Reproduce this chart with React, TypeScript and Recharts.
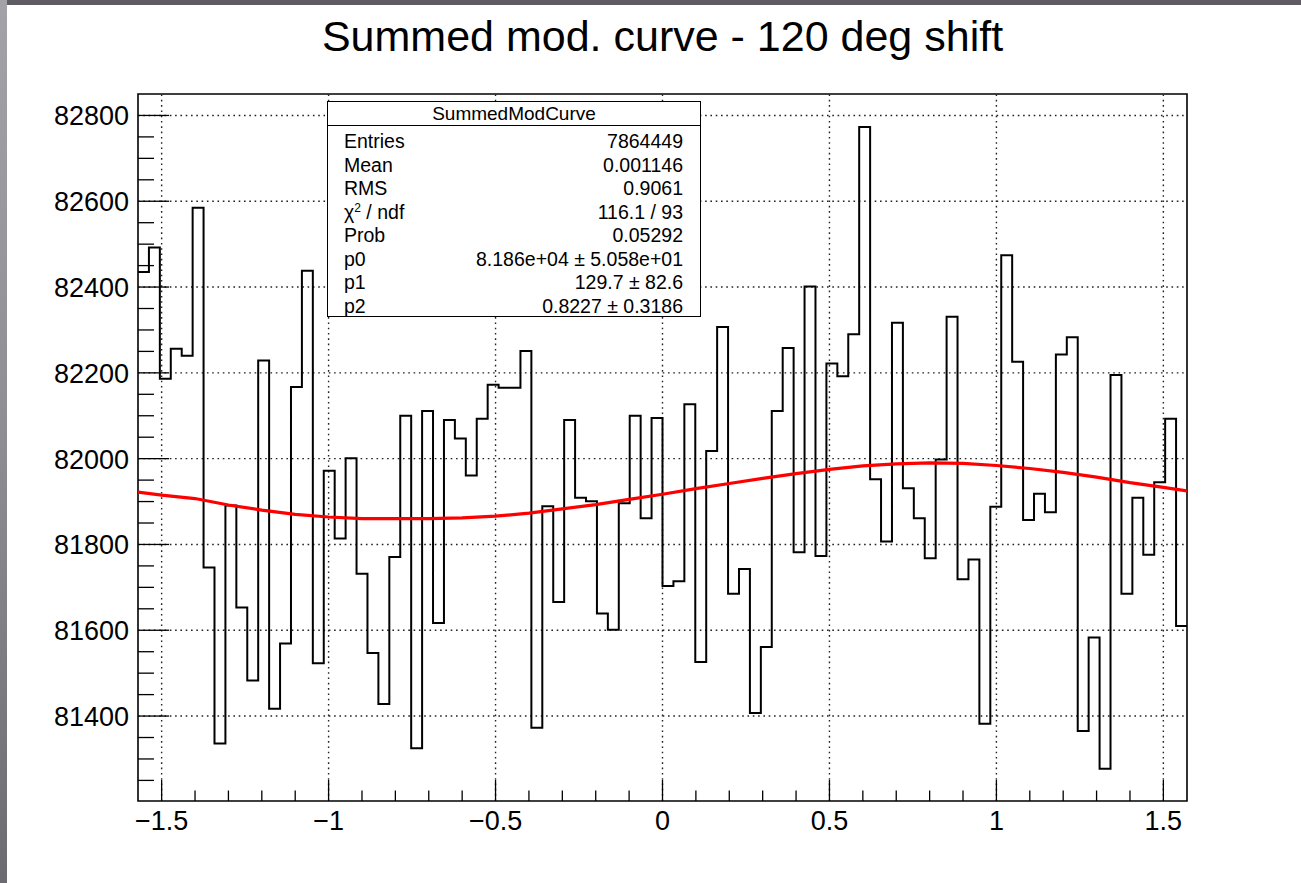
import React from "react";
import {
  ComposedChart,
  Line,
  XAxis,
  YAxis,
  ReferenceLine,
  ReferenceArea,
} from "recharts";

// ---------------- data ----------------
const histTitle = "SummedModCurve";
const chartTitle = "Summed mod. curve - 120 deg shift";
const xMin = -Math.PI / 2;
const xMax = Math.PI / 2;
const nBins = 96;

const binContents = [
  82435, 82492, 82186, 82256, 82240, 82585, 81746, 81336, 81891, 81653,
  81483, 82229, 81417, 81569, 82167, 82438, 81523, 81972, 81814, 82001,
  81732, 81547, 81428, 81771, 82100, 81325, 82111, 81617, 82090, 82047,
  81961, 82093, 82172, 82165, 82165, 82251, 81373, 81889, 81666, 82090,
  81909, 81901, 81639, 81601, 81896, 82100, 81861, 82095, 81703, 81714,
  82127, 81526, 82018, 82307, 81685, 81743, 81407, 81561, 82111, 82258,
  81782, 82401, 81773, 82222, 82192, 82290, 82773, 81952, 81807, 82317,
  81931, 81861, 81768, 81998, 82331, 81719, 81765, 81382, 81888, 82474,
  82226, 81857, 81918, 81875, 82243, 82283, 81365, 81583, 81277, 82195,
  81685, 81909, 81776, 81945, 82093, 81610,
];

const fitX = [
  -1.5708, -1.5, -1.4, -1.3, -1.2, -1.1, -1.0, -0.9, -0.8, -0.7, -0.6, -0.5,
  -0.4, -0.3, -0.2, -0.1, 0.0, 0.1, 0.2, 0.3, 0.4, 0.5, 0.6, 0.7, 0.8, 0.9,
  1.0, 1.1, 1.2, 1.3, 1.4, 1.5, 1.5708,
];
const fitY = [
  81922, 81915, 81907, 81892, 81880, 81870, 81864, 81860, 81860, 81860, 81862,
  81866, 81873, 81883, 81893, 81905, 81917, 81930, 81942, 81954, 81965, 81975,
  81983, 81988, 81990, 81989, 81984, 81977, 81968, 81957, 81944, 81933, 81925,
];

const xMajorTicks = [-1.5, -1, -0.5, 0, 0.5, 1, 1.5];
const xMajorLabels = ["\u22121.5", "\u22121", "\u22120.5", "0", "0.5", "1", "1.5"];
const xMinorTicks = [
  -1.4, -1.3, -1.2, -1.1, -0.9, -0.8, -0.7, -0.6, -0.4, -0.3, -0.2, -0.1,
  0.1, 0.2, 0.3, 0.4, 0.6, 0.7, 0.8, 0.9, 1.1, 1.2, 1.3, 1.4,
];
const yMajorTicks = [81400, 81600, 81800, 82000, 82200, 82400, 82600, 82800];
const yMajorLabels = ["81400", "81600", "81800", "82000", "82200", "82400", "82600", "82800"];
const yMinorTicks = [
  81250, 81300, 81350, 81450, 81500, 81550, 81650, 81700, 81750, 81850, 81900,
  81950, 82050, 82100, 82150, 82250, 82300, 82350, 82450, 82500, 82550, 82650,
  82700, 82750,
];
const yDomain = [81202, 82850];

const statsLabels = ["Entries", "Mean", "RMS", "CHI", "Prob", "p0", "p1", "p2"];
const statsValues = [
  "7864449",
  "0.001146",
  "0.9061",
  "116.1 / 93",
  "0.05292",
  "8.186e+04 \u00b1 5.058e+01",
  "129.7 \u00b1 82.6",
  "0.8227 \u00b1 0.3186",
];

// ---------------- derived tables ----------------
const binWidth = (xMax - xMin) / nBins;
const histData = binContents
  .map((v, i) => ({ x: xMin + i * binWidth, v }))
  .concat([{ x: xMax, v: binContents[binContents.length - 1] }]);
const fitData = fitX.map((x, i) => ({ x, f: fitY[i] }));

const xAllTicks = [...xMajorTicks, ...xMinorTicks].sort((a, b) => a - b);
const yAllTicks = [...yMajorTicks, ...yMinorTicks].sort((a, b) => a - b);

// ---------------- layout ----------------
const W = 1301;
const H = 883;
const PL = 138;
const PR = 1187;
const PT = 94;
const PB = 801;
const FONT = "'Liberation Sans', Arial, Helvetica, sans-serif";

const XTick = (props: any) => {
  const { x, payload } = props;
  const v = payload.value;
  const mi = xMajorTicks.findIndex((t) => Math.abs(t - v) < 1e-9);
  const len = mi >= 0 ? 21 : 10.5;
  return (
    <g>
      <line x1={x} x2={x} y1={PB} y2={PB - len} stroke="#000" strokeWidth={1.3} />
      {mi >= 0 && (
        <text
          x={x}
          y={830}
          textAnchor="middle"
          fontFamily={FONT}
          fontSize={27}
          fill="#000"
        >
          {xMajorLabels[mi]}
        </text>
      )}
    </g>
  );
};

const YTick = (props: any) => {
  const { y, payload } = props;
  const v = payload.value;
  const mi = yMajorTicks.findIndex((t) => Math.abs(t - v) < 1e-9);
  const len = mi >= 0 ? 31 : 16;
  return (
    <g>
      <line x1={PL} x2={PL + len} y1={y} y2={y} stroke="#000" strokeWidth={1.3} />
      {mi >= 0 && (
        <text
          x={129}
          y={y + 10}
          textAnchor="end"
          fontFamily={FONT}
          fontSize={27}
          fill="#000"
        >
          {yMajorLabels[mi]}
        </text>
      )}
    </g>
  );
};

const gridStyle = { stroke: "#222", strokeWidth: 1.4, strokeDasharray: "1.6 3.7" };

export default function App() {
  return (
    <div
      style={{
        position: "absolute",
        left: 0,
        top: 0,
        width: W,
        height: H,
        background: "#fff",
        overflow: "hidden",
        fontFamily: FONT,
      }}
    >
      {/* window edges */}
      <div
        style={{
          position: "absolute",
          left: 0,
          top: 0,
          width: W,
          height: 5,
          background: "#5f5d63",
        }}
      />
      <div
        style={{
          position: "absolute",
          left: 0,
          top: 0,
          width: 7,
          height: H,
          background: "linear-gradient(#a3a2a8, #8e8d93 50%, #6c6b71)",
        }}
      />
      {/* title */}
      <div
        style={{
          position: "absolute",
          left: PL,
          width: PR - PL,
          top: 11,
          textAlign: "center",
          fontSize: 43,
          lineHeight: "50px",
          color: "#000",
        }}
      >
        {chartTitle}
      </div>

      <div style={{ position: "absolute", left: 0, top: 0 }}>
        <ComposedChart
          width={W}
          height={H}
          margin={{ top: PT, right: W - PR, bottom: H - PB - 40, left: 0 }}
        >
          <XAxis
            dataKey="x"
            type="number"
            domain={[xMin, xMax]}
            allowDataOverflow
            ticks={xAllTicks}
            interval={0}
            tick={<XTick />}
            tickLine={false}
            axisLine={false}
            height={40}
          />
          <YAxis
            type="number"
            domain={yDomain}
            allowDataOverflow
            ticks={yAllTicks}
            interval={0}
            tick={<YTick />}
            tickLine={false}
            axisLine={false}
            width={PL}
          />
          {xMajorTicks.map((t) => (
            <ReferenceLine key={"gx" + t} x={t} {...gridStyle} />
          ))}
          {yMajorTicks.map((t) => (
            <ReferenceLine key={"gy" + t} y={t} {...gridStyle} />
          ))}
          <Line
            data={histData}
            dataKey="v"
            type="stepAfter"
            stroke="#000"
            strokeWidth={2}
            dot={false}
            isAnimationActive={false}
          />
          <Line
            data={fitData}
            dataKey="f"
            type="linear"
            stroke="#ff0000"
            strokeWidth={3.2}
            dot={false}
            isAnimationActive={false}
          />
          <ReferenceArea
            x1={xMin}
            x2={xMax}
            y1={yDomain[0]}
            y2={yDomain[1]}
            fill="none"
            fillOpacity={0}
            stroke="#000"
            strokeWidth={1.6}
          />
        </ComposedChart>
      </div>

      {/* stats box */}
      <div
        style={{
          position: "absolute",
          left: 327,
          top: 101,
          width: 372,
          height: 214,
          border: "1.5px solid #000",
          background: "#fff",
          color: "#000",
        }}
      >
        <div
          style={{
            height: 23,
            borderBottom: "1.5px solid #000",
            textAlign: "center",
            fontSize: 19,
            lineHeight: "24px",
          }}
        >
          {histTitle}
        </div>
        {statsLabels.map((lab, i) => (
          <div
            key={lab}
            style={{
              position: "absolute",
              left: 16,
              right: 17,
              top: 28 + i * 23.5,
              height: 23,
              fontSize: 19.5,
              lineHeight: "23px",
              display: "flex",
              justifyContent: "space-between",
            }}
          >
            <span>
              {lab === "CHI" ? (
                <>
                  {"\u03c7"}
                  <sup style={{ fontSize: 12, verticalAlign: "7px", lineHeight: 0 }}>2</sup>
                  {" / ndf"}
                </>
              ) : (
                lab
              )}
            </span>
            <span>{statsValues[i]}</span>
          </div>
        ))}
      </div>
    </div>
  );
}
